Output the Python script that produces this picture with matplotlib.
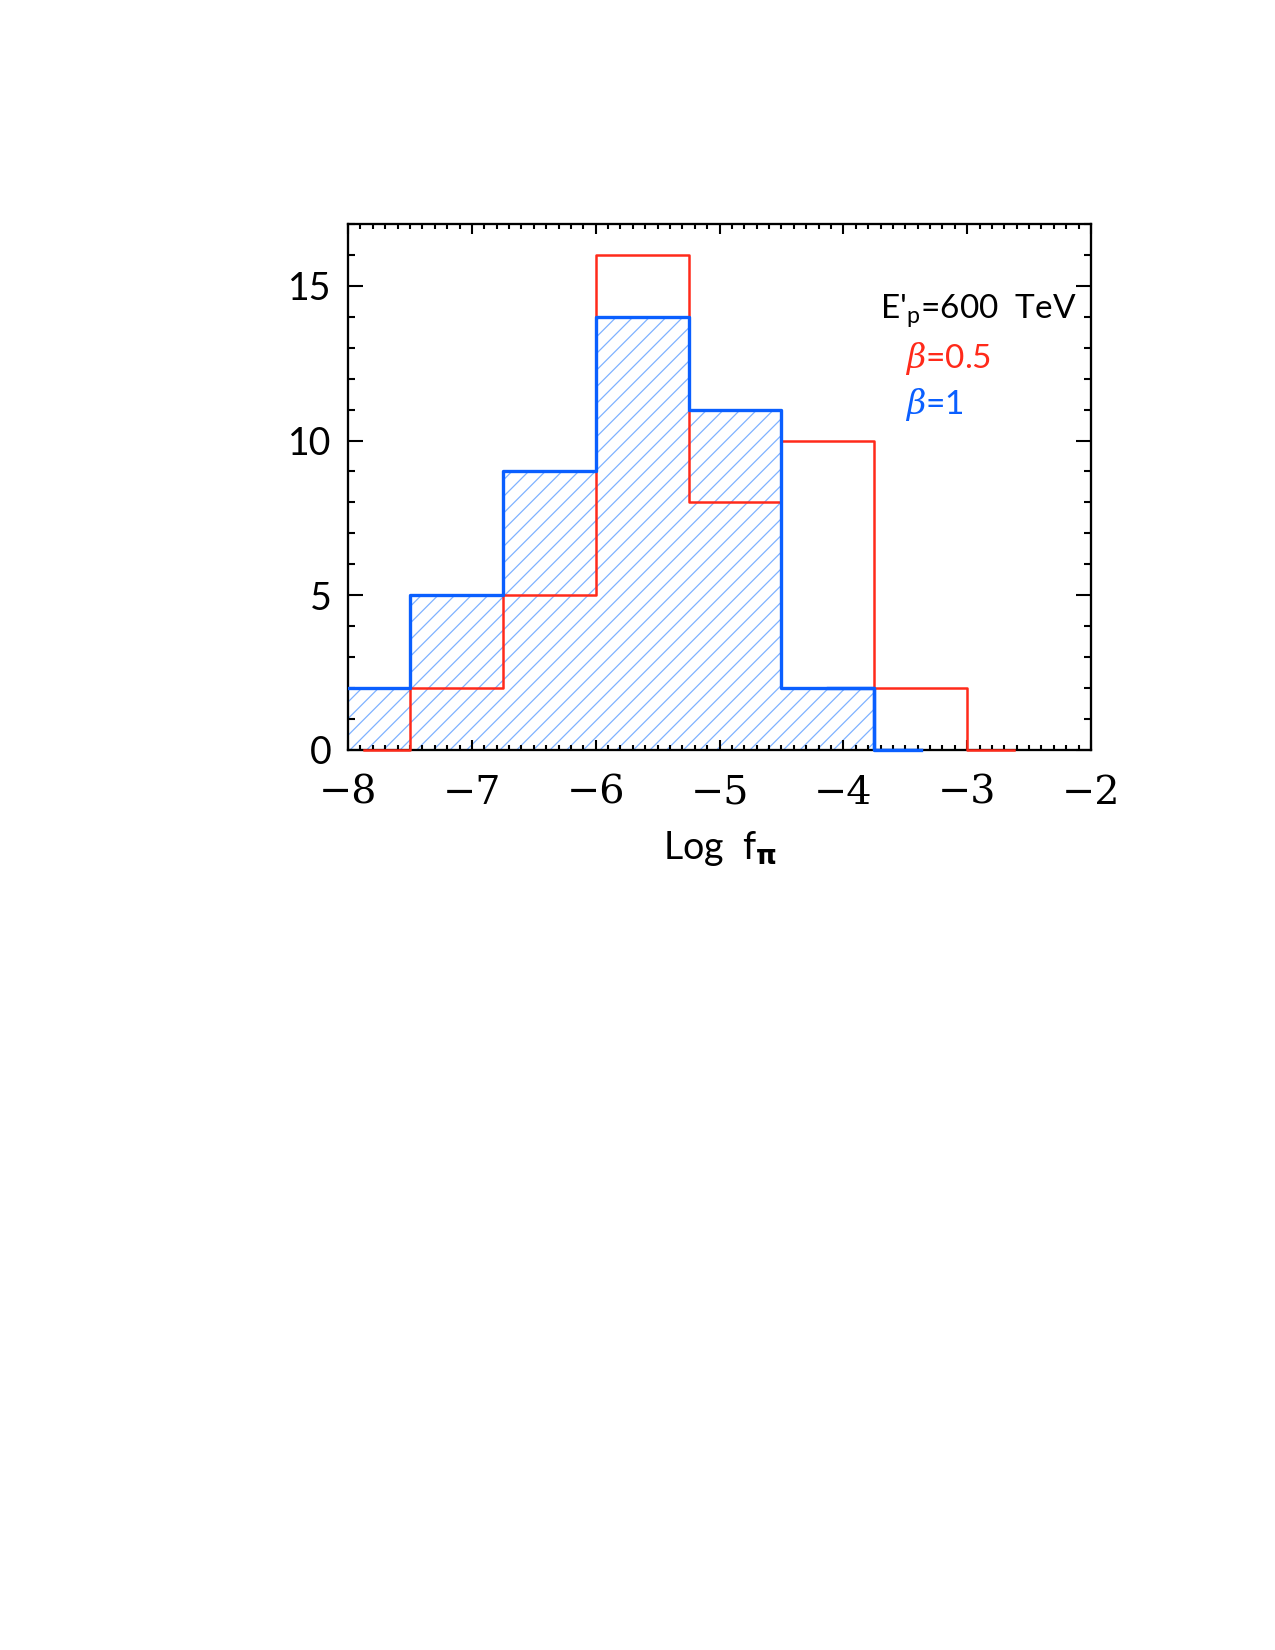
import numpy as np
import matplotlib
matplotlib.use("Agg")
import matplotlib.pyplot as plt
from matplotlib.ticker import MultipleLocator

# Data: histogram bin centres (IDL psym=10 style) and counts
red_centers = [-7.875, -7.125, -6.375, -5.625, -4.875, -4.125, -3.375, -2.625]
red_counts = [0, 2, 5, 16, 8, 10, 2, 0]          # beta = 0.5
blue_centers = [-8.625, -7.875, -7.125, -6.375, -5.625, -4.875, -4.125, -3.375]
blue_counts = [2, 2, 5, 9, 14, 11, 2, 0]         # beta = 1

red = '#ff2a1a'
blue = '#0a5fff'
hatch_col = '#7fb2ff'

plt.rcParams['hatch.linewidth'] = 0.6
plt.rcParams['axes.linewidth'] = 1.1
plt.rcParams['mathtext.fontset'] = 'custom'
plt.rcParams['mathtext.rm'] = 'Lato'
plt.rcParams['mathtext.it'] = 'DejaVu Serif:italic'
plt.rcParams['mathtext.bf'] = 'DejaVu Sans:bold'

fig = plt.figure(figsize=(8.5, 11), dpi=150)
ax = fig.add_axes([0.273, 0.5455, 0.5827, 0.3188])

# hatched blue fill
ax.fill_between(blue_centers, blue_counts, step='mid', facecolor='none',
                edgecolor=hatch_col, hatch='///', linewidth=0)
# lines drawn over the frame so the zero-level pieces show
ax.step(red_centers, red_counts, where='mid', color=red, lw=1.2,
        zorder=5, clip_on=False)
ax.step(blue_centers, blue_counts, where='mid', color=blue, lw=1.6,
        zorder=6)
ax.step(blue_centers[-2:], blue_counts[-2:], where='mid', color=blue, lw=1.6,
        zorder=6, clip_on=False)

ax.set_xlim(-8, -2)
ax.set_ylim(0, 17)
ax.xaxis.set_major_locator(MultipleLocator(1))
ax.xaxis.set_minor_locator(MultipleLocator(0.1))
ax.yaxis.set_major_locator(MultipleLocator(5))
ax.yaxis.set_minor_locator(MultipleLocator(1))
ax.tick_params(which='both', direction='in', top=True, right=True, width=1.0)
ax.tick_params(axis='x', which='major', length=5, pad=12)
ax.tick_params(axis='x', which='minor', length=2.5)
ax.tick_params(axis='y', which='major', length=7, pad=8)
ax.tick_params(axis='y', which='minor', length=3.5)

for lab in ax.get_xticklabels():
    lab.set_fontfamily('DejaVu Serif')
    lab.set_fontsize(19)
for lab in ax.get_yticklabels():
    lab.set_fontfamily(['Lato', 'DejaVu Sans'])
    lab.set_fontsize(18)

ax.set_xlabel(r'Log  f$_{\mathbf{\pi}}$', fontsize=18,
              family=['Lato', 'DejaVu Sans'], labelpad=8)

ax.text(0.716, 0.82, r"E'$_{\rm p}$=600  TeV", transform=ax.transAxes,
        fontsize=16, family=['Lato', 'DejaVu Sans'], color='black')
ax.text(0.75, 0.727, r'$\beta$=0.5', transform=ax.transAxes,
        fontsize=16, family=['Lato', 'DejaVu Sans'], color=red)
ax.text(0.75, 0.638, r'$\beta$=1', transform=ax.transAxes,
        fontsize=16, family=['Lato', 'DejaVu Sans'], color=blue)

fig.savefig('out.png', dpi=150)
